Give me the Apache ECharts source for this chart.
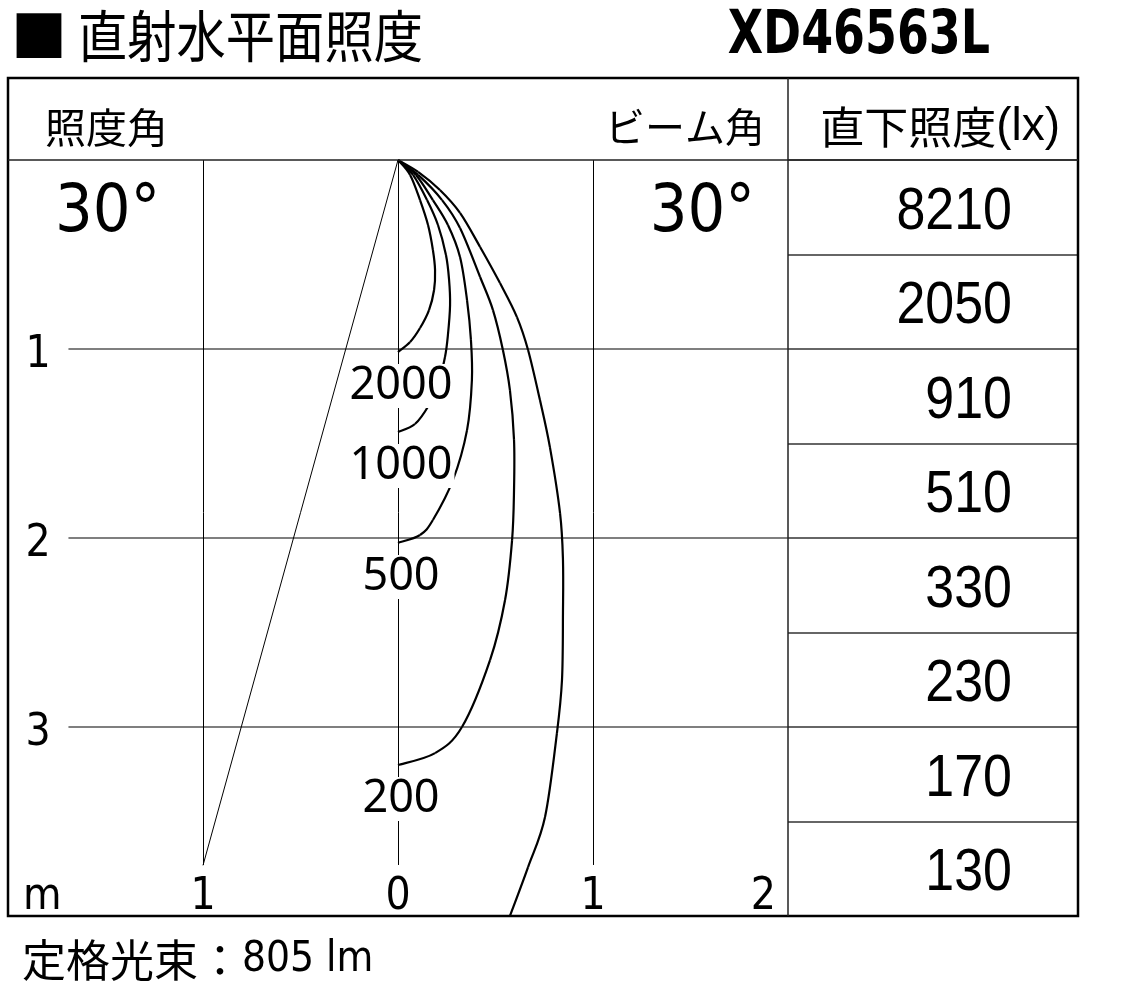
<!DOCTYPE html>
<html><head><meta charset="utf-8">
<script src="https://cdn.jsdelivr.net/npm/echarts@6/dist/echarts.min.js"></script>
<style>html,body{margin:0;padding:0;background:#fff}#c{width:1122px;height:999px}</style>
</head><body><div id="c"></div>
<script>
// ---- data (metres: x horizontal offset, y depth below the fixture) ----
const xTicks = [-2, -1, 0, 1, 2];
const yTicks = [0, 1, 2, 3, 4];
const gridDepths = [1, 2, 3];
const gridOffsets = [-1, 0, 1];
const beamAngle = 30;      // degrees
const fieldAngle = 30;     // degrees
const contourLevels = ['2000', '1000', '500', '200', ''];
const curve2000 = [[0,0],[0.062,0.079],[0.113,0.212],[0.154,0.344],[0.179,0.476],[0.190,0.582],[0.185,0.688],[0.159,0.794],[0.113,0.889],[0.062,0.963],[0,1.016]];
const curve1000 = [[0,0],[0.077,0.079],[0.149,0.212],[0.205,0.344],[0.246,0.503],[0.262,0.635],[0.267,0.767],[0.256,0.926],[0.241,1.042],[0.205,1.190],[0.159,1.296],[0.087,1.397],[0,1.439]];
const curve500 = [[0,0],[0.092,0.079],[0.179,0.212],[0.256,0.344],[0.318,0.513],[0.354,0.741],[0.374,0.952],[0.379,1.164],[0.354,1.429],[0.282,1.693],[0.179,1.905],[0.113,1.984],[0,2.026]];
const curve200 = [[0,0],[0.103,0.079],[0.226,0.212],[0.318,0.360],[0.421,0.619],[0.487,0.794],[0.538,1.005],[0.574,1.217],[0.595,1.481],[0.595,1.746],[0.585,2.011],[0.549,2.328],[0.472,2.646],[0.328,3.000],[0.190,3.138],[0,3.201]];
const curve100 = [[0,0],[0.103,0.063],[0.215,0.159],[0.318,0.280],[0.421,0.460],[0.523,0.651],[0.610,0.831],[0.667,1.005],[0.728,1.270],[0.779,1.519],[0.831,1.868],[0.846,2.116],[0.846,2.397],[0.841,2.751],[0.815,3.032],[0.754,3.476],[0.667,3.741],[0.574,4.000]];
const tableDepths = ['0.5', '1.0', '1.5', '2.0', '2.5', '3.0', '3.5', '4.0'];
const directLux = [8210, 2050, 910, 510, 330, 230, 170, 130];
const titleText = '直射水平面照度';
const modelText = 'XD46563L';
const fluxLabel = '定格光束：';
const fluxValue = '805 lm';

// ---- chart ----
const COND = "'DejaVu Sans Condensed', 'Liberation Sans', sans-serif";
const LIB = "'Liberation Sans', Arial, sans-serif";
const CJK = "'Noto Sans CJK JP', sans-serif";
const curves = [curve2000, curve1000, curve500, curve200, curve100];
const halfRad = beamAngle / 2 * Math.PI / 180;
const beamEndDepth = 1 / Math.tan(halfRad);
const vLineEnd = 3.73;

const chart = echarts.init(document.getElementById('c'), null, {renderer: 'canvas'});

function textSeries(xIdx, yIdx, data, font, scaleX, align, dy) {
  return {
    type: 'custom', xAxisIndex: xIdx, yAxisIndex: yIdx, silent: true, z: 6,
    data: data,
    renderItem: (params, api) => {
      const p = api.coord([api.value(0), api.value(1)]);
      return {
        type: 'text', x: p[0], y: p[1] + dy, scaleX: scaleX, scaleY: 1,
        style: {text: String(data[params.dataIndex][2]), font: font, fill: '#000', textAlign: align, textVerticalAlign: 'middle'}
      };
    }
  };
}

// smooth curve through the read points, drawn as bezier segments in axis coordinates
function curveSeries(list) {
  return {
    type: 'custom', xAxisIndex: 0, yAxisIndex: 0, silent: true, z: 3,
    data: list.map((c, i) => [c[0][0], c[0][1], i]),
    renderItem: (params, api) => {
      const pts = list[params.dataIndex].map(p => api.coord(p));
      const children = [];
      const t = 1 / 6;
      for (let i = 0; i < pts.length - 1; i++) {
        const p0 = pts[i - 1] || pts[i], p1 = pts[i], p2 = pts[i + 1], p3 = pts[i + 2] || pts[i + 1];
        children.push({
          type: 'bezierCurve',
          shape: {
            x1: p1[0], y1: p1[1], x2: p2[0], y2: p2[1],
            cpx1: p1[0] + (p2[0] - p0[0]) * t, cpy1: p1[1] + (p2[1] - p0[1]) * t,
            cpx2: p2[0] - (p3[0] - p1[0]) * t, cpy2: p2[1] - (p3[1] - p1[1]) * t
          },
          style: {stroke: '#000', lineWidth: 2.2, fill: null}
        });
      }
      return {type: 'group', children: children};
    }
  };
}

const series = [];
// grid lines
series.push({
  type: 'lines', coordinateSystem: 'cartesian2d', xAxisIndex: 0, yAxisIndex: 0, silent: true, z: 1,
  lineStyle: {color: '#555', width: 1.6, opacity: 1},
  data: gridDepths.map(d => ({coords: [[-1.69, d], [2, d]]}))
});
series.push({
  type: 'lines', coordinateSystem: 'cartesian2d', xAxisIndex: 0, yAxisIndex: 0, silent: true, z: 1,
  lineStyle: {color: '#000', width: 1, opacity: 1},
  data: gridOffsets.map(o => ({coords: [[o, 0], [o, vLineEnd]]}))
});
// beam angle line
series.push({
  type: 'line', xAxisIndex: 0, yAxisIndex: 0, silent: true, z: 2, showSymbol: false,
  lineStyle: {color: '#000', width: 1},
  data: [[0, 0], [-1, beamEndDepth]]
});
// contour curves
series.push(curveSeries(curves));
// contour labels
series.push({
  type: 'scatter', xAxisIndex: 0, yAxisIndex: 0, silent: true, z: 5, symbolSize: 0,
  itemStyle: {opacity: 1},
  data: curves.map((c, i) => ({value: c[c.length - 1], name: contourLevels[i]})).filter(d => d.name),
  label: {
    show: true, position: 'bottom', distance: 12, formatter: p => p.name,
    fontFamily: "'Noto Sans', sans-serif", fontSize: 45, color: '#000', opacity: 1,
    backgroundColor: '#fff', padding: [0, 2, 0, 2], lineHeight: 44, offset: [3, 0]
  }
});
// table values
series.push(textSeries(1, 1, directLux.map((v, i) => [0.772, i, v]), '59px ' + LIB, 0.88, 'right', 5));

const option = {
  animation: false,
  backgroundColor: '#fff',
  grid: [
    {left: 8, top: 160, width: 780, height: 756, containLabel: false},
    {left: 788, top: 160, width: 290, height: 756, containLabel: false}
  ],
  xAxis: [
    {type: 'value', gridIndex: 0, min: -2, max: 2, interval: 1,
     axisLine: {show: false}, axisTick: {show: false}, splitLine: {show: false},
     axisLabel: {show: true, inside: true, margin: -4, fontFamily: COND, fontSize: 44, color: '#000',
       showMinLabel: true, showMaxLabel: true, alignMinLabel: 'left', alignMaxLabel: 'right',
       formatter: v => v === -2 ? '{m|m}' : (v === 2 ? '{r|2}' : String(Math.abs(v))),
       rich: {m: {fontFamily: COND, fontSize: 44, padding: [0, 0, 0, 15]}, r: {fontFamily: COND, fontSize: 44, padding: [0, 12, 0, 0]}}
     }},
    {type: 'value', gridIndex: 1, min: 0, max: 1, show: false}
  ],
  yAxis: [
    {type: 'value', gridIndex: 0, min: 0, max: 4, interval: 1, inverse: true,
     axisLine: {show: false}, axisTick: {show: false}, splitLine: {show: false},
     axisLabel: {show: true, inside: true, margin: 30, align: 'center', verticalAlign: 'middle',
       fontFamily: COND, fontSize: 44, color: '#000',
       formatter: v => (v >= 1 && v <= 3) ? '{a|' + v + '}' : '',
       rich: {a: {fontFamily: COND, fontSize: 44, padding: [14, 0, 0, 0]}}
     }},
    {type: 'category', gridIndex: 1, data: tableDepths, inverse: true, boundaryGap: true,
     axisLine: {show: false}, axisTick: {show: false}, axisLabel: {show: false},
     splitLine: {show: true, lineStyle: {color: '#333', width: 1.5}}}
  ],
  graphic: [
    {type: 'rect', shape: {x: 8, y: 78, width: 1070, height: 838}, style: {fill: 'none', stroke: '#000', lineWidth: 2.5}, z: 10},
    {type: 'line', shape: {x1: 8, y1: 160, x2: 1078, y2: 160}, style: {stroke: '#222', lineWidth: 1.5}, z: 10},
    {type: 'line', shape: {x1: 788, y1: 78, x2: 788, y2: 916}, style: {stroke: '#222', lineWidth: 1.5}, z: 10},
    {type: 'text', x: 11, y: 36, z: 10, style: {text: '■', font: '56px ' + CJK, fill: '#000', textAlign: 'left', textVerticalAlign: 'middle'}},
    {type: 'text', x: 78, y: 36, z: 10, scaleX: 0.88, style: {text: titleText, font: '56px ' + CJK, fill: '#000', textAlign: 'left', textVerticalAlign: 'middle'}},
    {type: 'text', x: 990, y: 37, z: 10, scaleX: 0.85, style: {text: modelText, font: 'bold 60px ' + COND, fill: '#000', textAlign: 'right', textVerticalAlign: 'middle'}},
    {type: 'text', x: 45, y: 127, z: 10, style: {text: '照度角', font: '41px ' + CJK, fill: '#000', textAlign: 'left', textVerticalAlign: 'middle'}},
    {type: 'text', x: 765, y: 127, z: 10, style: {text: 'ビーム角', font: '40px ' + CJK, fill: '#000', textAlign: 'right', textVerticalAlign: 'middle'}},
    {type: 'text', x: 1060, y: 127, z: 10, style: {text: '{c|直下照度}{l|(lx)}', textAlign: 'right', textVerticalAlign: 'middle',
      rich: {c: {font: '44px ' + CJK, fill: '#000'}, l: {font: '46px ' + LIB, fill: '#000'}}}},
    {type: 'text', x: 55, y: 214, z: 10, style: {text: fieldAngle + '°', font: '66px ' + COND, fill: '#000', textAlign: 'left', textVerticalAlign: 'middle'}},
    {type: 'text', x: 755, y: 214, z: 10, style: {text: beamAngle + '°', font: '66px ' + COND, fill: '#000', textAlign: 'right', textVerticalAlign: 'middle'}},
    {type: 'text', x: 22, y: 960, z: 10, style: {text: '{c|' + fluxLabel + '}{v|' + fluxValue + '}', textAlign: 'left', textVerticalAlign: 'middle',
      rich: {c: {font: '44px ' + CJK, fill: '#000'}, v: {font: '42px ' + COND, fill: '#000'}}}}
  ],
  series: series
};
chart.setOption(option);
</script>
</body></html>
